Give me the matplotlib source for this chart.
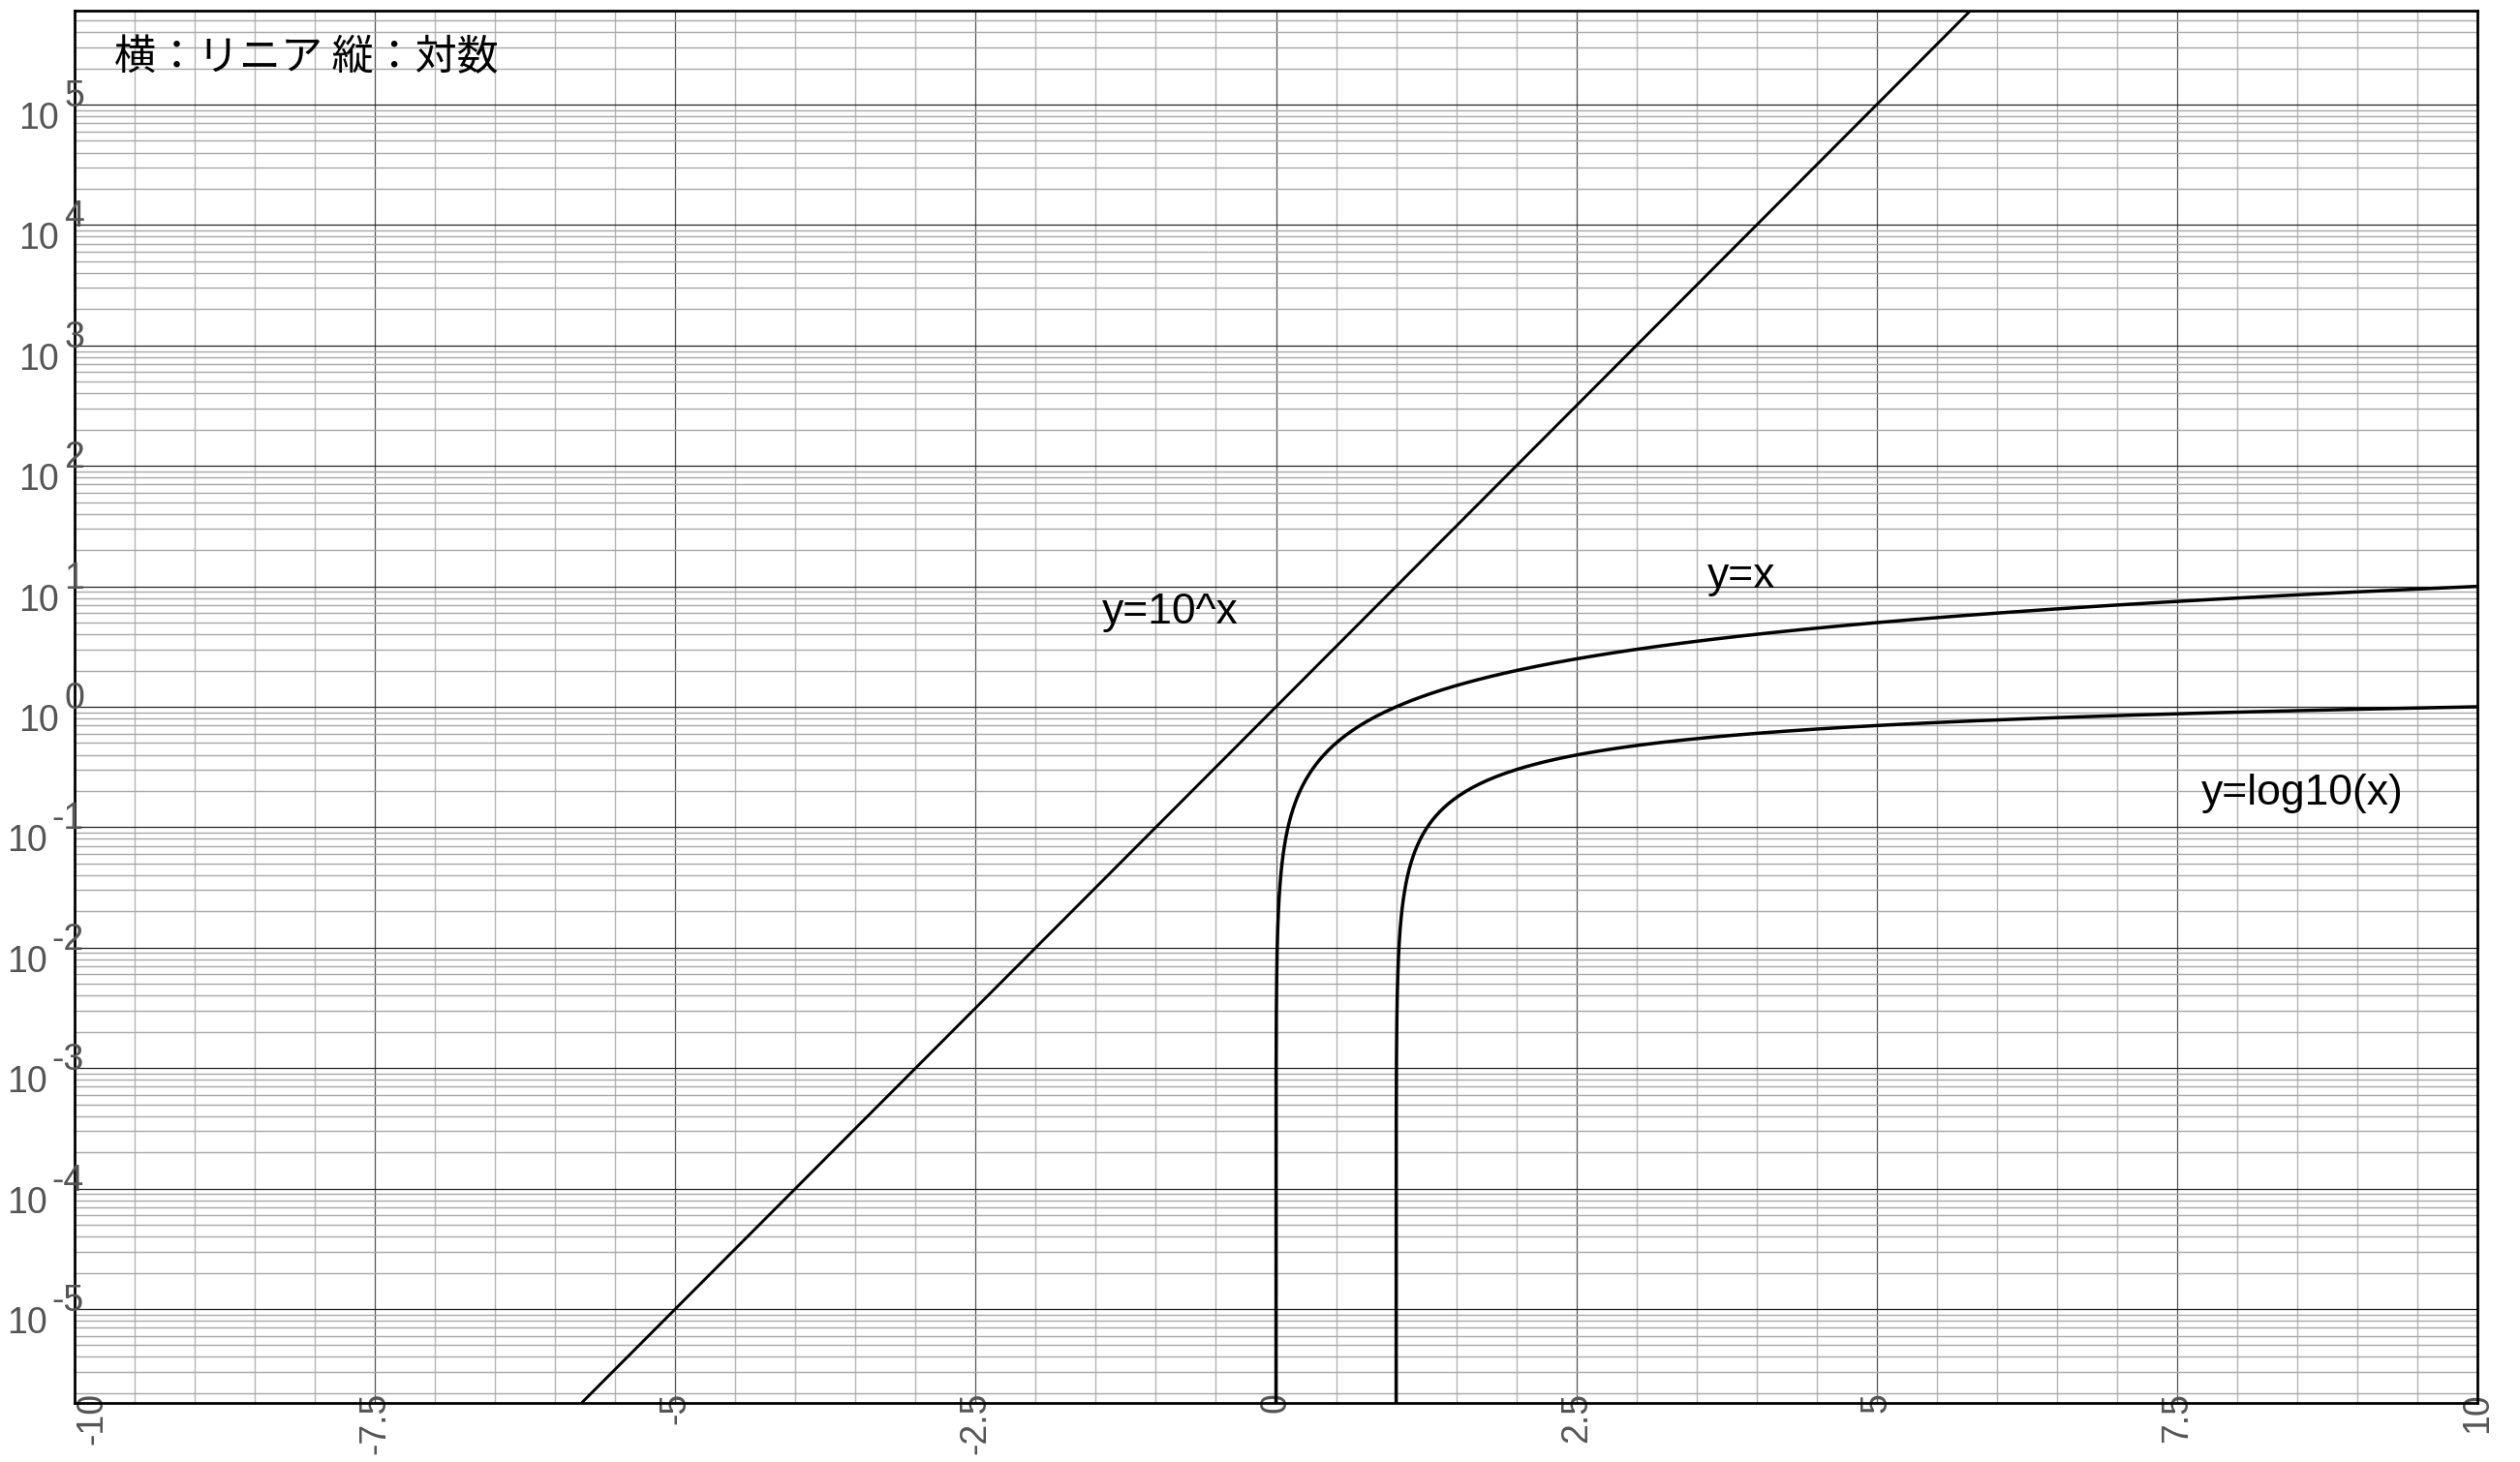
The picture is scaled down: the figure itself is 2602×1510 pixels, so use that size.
import numpy as np
import matplotlib
matplotlib.use("Agg")
import matplotlib.pyplot as plt
from matplotlib.ticker import FixedLocator, MultipleLocator, LogLocator, NullFormatter

plt.rcParams['font.family'] = ['Liberation Sans', 'DejaVu Sans']

# axis ticks
x_ticks = [-10, -7.5, -5, -2.5, 0, 2.5, 5, 7.5, 10]
x_tick_labels = ["-10", "-7.5", "-5", "-2.5", "0", "2.5", "5", "7.5", "10"]
y_exponents = [-5, -4, -3, -2, -1, 0, 1, 2, 3, 4, 5]

# the three curves: y=10^x, y=x, y=log10(x)
x_pow = np.linspace(-10, 10, 801)
x_id = np.concatenate([np.geomspace(1e-8, 1, 400), np.linspace(1, 10, 400)[1:]])
x_log = 1 + np.concatenate([np.geomspace(1e-8, 1, 400), np.linspace(1, 9, 400)[1:]])
curve_labels = ["y=10^x", "y=x", "y=log10(x)"]
label_x = [-1.45, 3.59, 7.70]
label_y = [4.9, 9.8, 0.155]

note = "横：リニア 縦：対数"

fig = plt.figure(figsize=(26.02, 15.10), dpi=100)
ax = fig.add_axes([0.0296, 0.0404, 0.9535, 0.9523])

ax.plot(x_pow, 10.0 ** x_pow, color="black", lw=2.1)
ax.plot(x_id, x_id, color="black", lw=2.5)
ax.plot(x_log, np.log10(x_log), color="black", lw=2.5)

ax.set_yscale("log")
ax.set_xlim(-10, 10)
ax.set_ylim(10 ** -5.78, 10 ** 5.78)

ax.xaxis.set_major_locator(FixedLocator(x_ticks))
ax.set_xticklabels(x_tick_labels)
ax.xaxis.set_minor_locator(MultipleLocator(0.5))
ax.set_yticks([10.0 ** k for k in y_exponents])
ax.set_yticklabels([""] * len(y_exponents))
ax.yaxis.set_minor_locator(LogLocator(base=10, subs=np.arange(2, 10), numticks=100))
ax.yaxis.set_minor_formatter(NullFormatter())

ax.tick_params(which="both", length=0)
ax.tick_params(axis="x", labelrotation=90, pad=-8, labelsize=27, labelcolor="#555555")
ax.xaxis.get_major_ticks()[0].label1.set_horizontalalignment("left")

ax.grid(which="major", axis="x", color="#555555", lw=0.9)
ax.grid(which="minor", axis="x", color="#b5b5b5", lw=1.0)
ax.grid(which="major", axis="y", color="#222222", lw=0.9)
ax.grid(which="minor", axis="y", color="#a8a8a8", lw=1.0)
ax.set_axisbelow(True)

for s in ax.spines.values():
    s.set_linewidth(2.0)
    s.set_color("black")

# y labels as 10 with a full-size exponent
for k in y_exponents:
    ex = ax.annotate(str(k), xy=(0, 10.0 ** k), xycoords=("axes fraction", "data"),
                     xytext=(10, -2), textcoords="offset pixels",
                     ha="right", va="baseline", fontsize=27, color="#555555",
                     annotation_clip=False)
    ax.annotate("10", xy=(0, 0), xycoords=ex, xytext=(-5, -15),
                textcoords="offset pixels", ha="right", va="baseline",
                fontsize=27, color="#555555", annotation_clip=False)

for name, lx, ly in zip(curve_labels, label_x, label_y):
    ax.text(lx, ly, name, fontsize=32, color="black", va="baseline")

ax.text(0.0165, 0.966, note, transform=ax.transAxes, fontsize=31,
        family=["Noto Sans CJK JP", "DejaVu Sans"], va="center", ha="left")

fig.savefig("out.png", dpi=100)
